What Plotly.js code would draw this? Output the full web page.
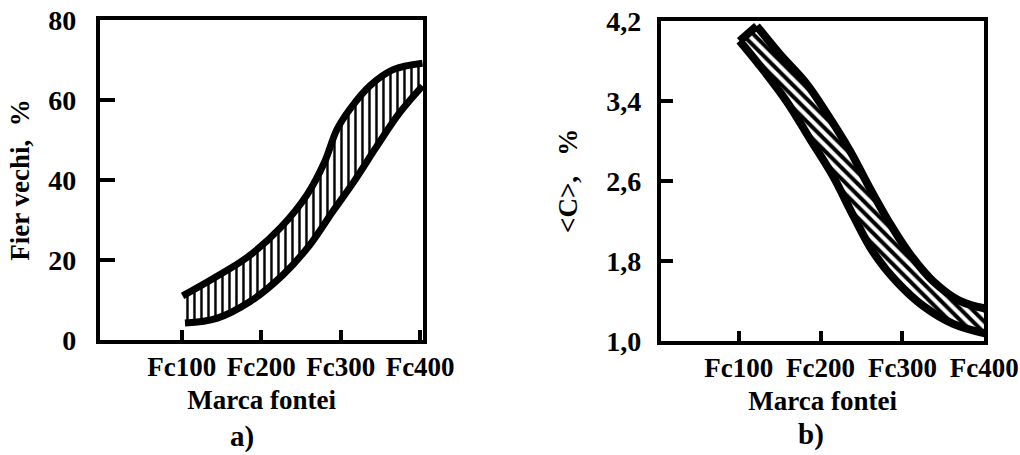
<!DOCTYPE html>
<html>
<head>
<meta charset="utf-8">
<script src="https://cdn.plot.ly/plotly-3.0.1.min.js"></script>
<style>html,body{margin:0;padding:0;background:#fff;}#chart{width:1020px;height:455px;}</style>
</head>
<body>
<div id="chart"></div>
<script>
// Shared x categories (cast iron grade)
var gradeVals = [100, 200, 300, 400];
var gradeLabels = ['Fc100', 'Fc200', 'Fc300', 'Fc400'];

// Panel a) : scrap iron share, %
var aUpperX = [101, 139, 182, 224, 258, 280, 295, 312, 337, 366, 403];
var aUpperY = [11, 15.3, 20.6, 28.0, 36.4, 44.6, 52.5, 57.8, 63.6, 67.6, 69.2];
var aLowerX = [104, 144, 186, 227, 261, 290, 316, 346, 375, 403];
var aLowerY = [4.2, 5.4, 9.6, 16.2, 23.7, 32.1, 39.4, 48.6, 57.0, 63.5];
var aYTicks = [0, 20, 40, 60, 80];

// Panel b) : carbon content <C>, %
var bUpperX = [122, 150, 183, 208, 236, 260, 285, 309, 337, 370, 403];
var bUpperY = [4.15, 3.87, 3.57, 3.27, 2.90, 2.53, 2.17, 1.87, 1.60, 1.40, 1.32];
var bLowerX = [101, 126, 159, 187, 215, 240, 264, 293, 325, 362, 403];
var bLowerY = [4.00, 3.75, 3.39, 3.02, 2.65, 2.25, 1.89, 1.59, 1.35, 1.17, 1.07];
var bYTicks = [1.0, 1.8, 2.6, 3.4, 4.2];

var serif = 'Liberation Serif, Times New Roman, serif';

function rev(a) { return a.slice().reverse(); }
function line(x, y, xa, ya, w) {
  return {x: x, y: y, xaxis: xa, yaxis: ya, type: 'scatter', mode: 'lines',
    line: {width: w, shape: 'spline', color: 'black'}, hoverinfo: 'skip', showlegend: false};
}

var traces = [
  // a) hatched band
  {x: aUpperX.concat(rev(aLowerX)), y: aUpperY.concat(rev(aLowerY)), xaxis: 'x', yaxis: 'y',
   type: 'scatter', mode: 'lines', fill: 'toself', line: {width: 0, shape: 'spline', color: 'black'},
   fillcolor: 'white', fillpattern: {shape: '|', size: 7, solidity: 0.35, fgcolor: 'black', bgcolor: 'white'},
   hoverinfo: 'skip', showlegend: false},
  line(aUpperX, aUpperY, 'x', 'y', 7),
  line(aLowerX, aLowerY, 'x', 'y', 7),
  // b) hatched ribbon
  {x: bUpperX.concat(rev(bLowerX)), y: bUpperY.concat(rev(bLowerY)), xaxis: 'x2', yaxis: 'y2',
   type: 'scatter', mode: 'lines', fill: 'toself', line: {width: 0, shape: 'spline', color: 'black'},
   fillcolor: 'white', fillpattern: {shape: '\\', size: 8, solidity: 0.5, fgcolor: 'black', bgcolor: 'white'},
   hoverinfo: 'skip', showlegend: false},
  line(bUpperX, bUpperY, 'x2', 'y2', 8),
  line(bLowerX, bLowerY, 'x2', 'y2', 8),
  line([bLowerX[0], bUpperX[0]], [bLowerY[0], bUpperY[0]], 'x2', 'y2', 8)
];

var tickFont = {family: serif, size: 28, color: 'black', weight: 'bold'};
var titleFont = {family: serif, size: 27, color: 'black', weight: 'bold'};

var xCommon = {
  tickvals: gradeVals, ticktext: gradeLabels, ticks: 'inside', ticklen: 10, tickwidth: 4,
  tickcolor: 'black', showline: true, linewidth: 4, linecolor: 'black', mirror: true,
  showgrid: false, zeroline: false, tickfont: {family: serif, size: 27, color: 'black', weight: 'bold'},
  ticklabelstandoff: 0, fixedrange: true,
  title: {text: 'Marca fontei', font: titleFont, standoff: 10}
};
var yCommon = {
  ticks: 'inside', ticklen: 15, tickwidth: 4, tickcolor: 'black', showline: true, linewidth: 4,
  linecolor: 'black', mirror: true, showgrid: false, zeroline: false, tickfont: tickFont,
  fixedrange: true
};

var layout = {
  width: 1020, height: 455,
  margin: {l: 0, r: 0, t: 0, b: 0},
  paper_bgcolor: 'white', plot_bgcolor: 'white',
  separators: ', ',
  showlegend: false,
  xaxis: Object.assign({}, xCommon, {domain: [0.098, 0.415], range: [-3, 404], anchor: 'y'}),
  yaxis: Object.assign({}, yCommon, {domain: [0.253, 0.956], range: [0, 80], tickvals: aYTicks,
    anchor: 'x', ticklabelstandoff: 14,
    title: {text: 'Fier vechi,  %', font: titleFont, standoff: 12}}),
  xaxis2: Object.assign({}, xCommon, {domain: [0.648, 0.965], range: [5, 400], anchor: 'y2'}),
  yaxis2: Object.assign({}, yCommon, {domain: [0.251, 0.954], range: [1.0, 4.2], tickvals: bYTicks,
    tickformat: '.1f', anchor: 'x2', ticklen: 12, ticklabelstandoff: 10,
    title: {text: '&lt;C&gt;,   %', font: titleFont, standoff: 22}}),
  annotations: [
    {text: 'a)', x: 0.237, y: 0.0, xref: 'paper', yref: 'paper', xanchor: 'center', yanchor: 'bottom',
     showarrow: false, font: {family: serif, size: 29, color: 'black', weight: 'bold'}},
    {text: 'b)', x: 0.795, y: 0.004, xref: 'paper', yref: 'paper', xanchor: 'center', yanchor: 'bottom',
     showarrow: false, font: {family: serif, size: 29, color: 'black', weight: 'bold'}}
  ]
};

Plotly.newPlot('chart', traces, layout, {displayModeBar: false, staticPlot: true});
</script>
</body>
</html>
